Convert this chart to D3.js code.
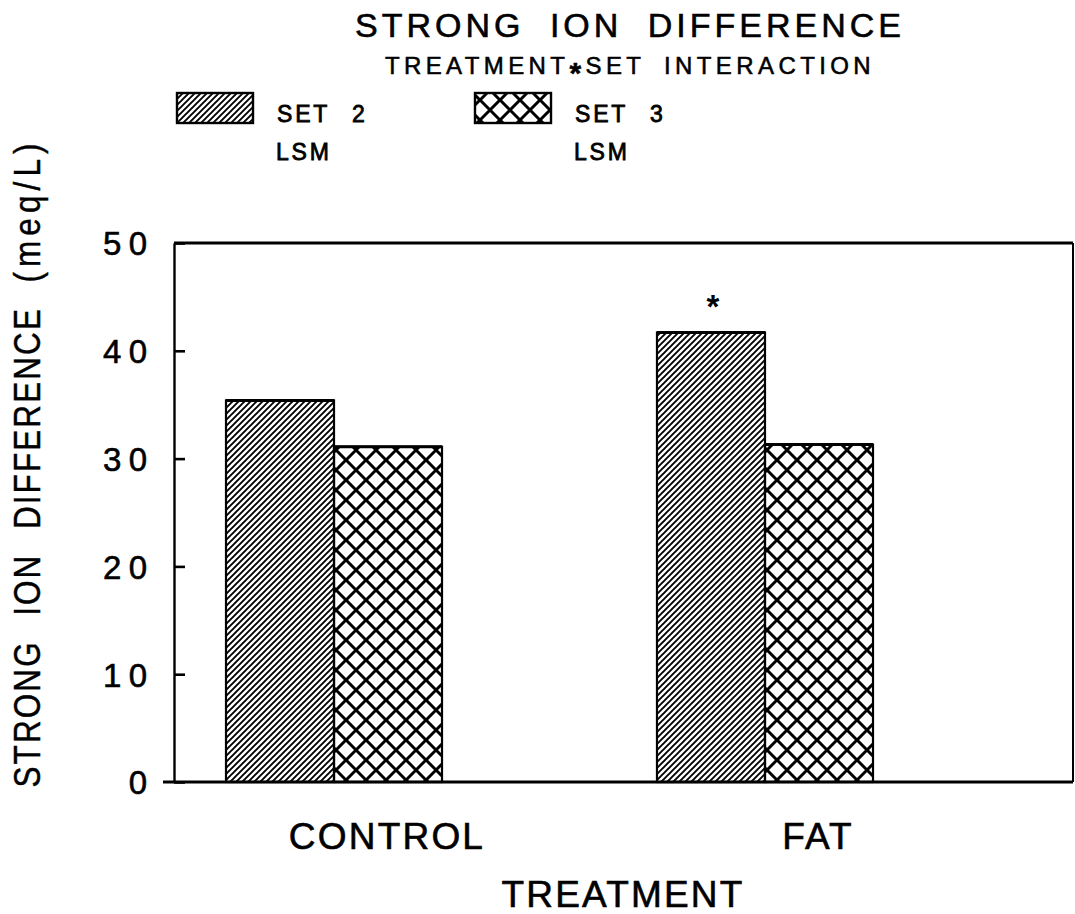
<!DOCTYPE html>
<html>
<head>
<meta charset="utf-8">
<script src="https://cdn.jsdelivr.net/npm/d3@7"></script>
<style>
  html, body { margin: 0; padding: 0; background: #fff; }
  svg { display: block; }
  text { font-family: "Liberation Sans", Arial, Helvetica, sans-serif; fill: #000; }
</style>
</head>
<body>
<svg id="chart" width="1075" height="914"></svg>
<script>
// ---- data ----
const groups = ["CONTROL", "FAT"];
const sets = ["SET 2", "SET 3"];
const set2Values = [35.4, 41.7];
const set3Values = [31.1, 31.3];
const yTickValues = [0, 10, 20, 30, 40, 50];
const significantSet2 = [false, true];   // asterisk over SET 2 bar
const legendLabels = ["SET 2", "SET 3"];
const legendSubLabels = ["LSM", "LSM"];

const titleText = "STRONG ION DIFFERENCE";
const subtitleParts = ["TREATMENT", "*", "SET INTERACTION"];
const yLabelParts = ["STRONG ION DIFFERENCE ", "(meq/L)"];
const xLabelText = "TREATMENT";

// ---- layout ----
const plot = { left: 174, right: 1073, top: 243, bottom: 782 };
const barsSpan = [226, 873];

const svg = d3.select("#chart");

// hatch patterns
const defs = svg.append("defs");
const diag = defs.append("pattern")
  .attr("id", "hatchDiag").attr("patternUnits", "userSpaceOnUse")
  .attr("width", 6).attr("height", 6);
diag.append("path")
  .attr("d", "M-1.5,1.5 L1.5,-1.5 M0,6 L6,0 M4.5,7.5 L7.5,4.5")
  .attr("stroke", "#000").attr("stroke-width", 1.9).attr("fill", "none");

const cross = defs.append("pattern")
  .attr("id", "hatchCross").attr("patternUnits", "userSpaceOnUse")
  .attr("width", 20).attr("height", 20);
cross.append("path")
  .attr("d", "M0,0 L20,20 M20,0 L0,20")
  .attr("stroke", "#000").attr("stroke-width", 3).attr("fill", "none");

const fills = { "SET 2": "url(#hatchDiag)", "SET 3": "url(#hatchCross)" };

// ---- scales ----
const y = d3.scaleLinear().domain([0, 50]).range([plot.bottom, plot.top]);
const x0 = d3.scaleBand().domain(groups).range(barsSpan).paddingInner(0.4988).paddingOuter(0);
const x1 = d3.scaleBand().domain(sets).range([0, x0.bandwidth()]).padding(0);

const rows = groups.map((g, i) => ({
  group: g,
  values: [
    { set: "SET 2", value: set2Values[i], star: significantSet2[i] },
    { set: "SET 3", value: set3Values[i], star: false }
  ]
}));

// ---- bars ----
const gBars = svg.append("g");
const groupSel = gBars.selectAll("g.grp").data(rows).join("g")
  .attr("class", "grp")
  .attr("transform", d => `translate(${x0(d.group)},0)`);

groupSel.selectAll("rect").data(d => d.values).join("rect")
  .attr("x", d => x1(d.set))
  .attr("y", d => y(d.value))
  .attr("width", x1.bandwidth())
  .attr("height", d => y(0) - y(d.value))
  .attr("fill", d => fills[d.set])
  .attr("stroke", "#000")
  .attr("stroke-width", 2.2);

// bar tops drawn heavier
groupSel.selectAll("line.top").data(d => d.values).join("line")
  .attr("class", "top")
  .attr("x1", d => x1(d.set))
  .attr("x2", d => x1(d.set) + x1.bandwidth())
  .attr("y1", d => y(d.value))
  .attr("y2", d => y(d.value))
  .attr("stroke", "#000").attr("stroke-width", 3);

// significance asterisk
groupSel.selectAll("text.star").data(d => d.values.filter(v => v.star)).join("text")
  .attr("class", "star")
  .attr("x", d => x1(d.set) + x1.bandwidth() / 2 + 2)
  .attr("y", d => y(d.value) - 14)
  .attr("text-anchor", "middle")
  .attr("font-size", 33)
  .attr("font-weight", "bold")
  .text("*");

// ---- frame ----
const frame = svg.append("g").attr("stroke", "#000").attr("fill", "none");
frame.append("line").attr("x1", plot.left).attr("x2", plot.right)
  .attr("y1", plot.top).attr("y2", plot.top).attr("stroke-width", 3);
frame.append("line").attr("x1", plot.right).attr("x2", plot.right)
  .attr("y1", plot.top).attr("y2", plot.bottom).attr("stroke-width", 2);
frame.append("line").attr("x1", 163).attr("x2", plot.right)
  .attr("y1", plot.bottom).attr("y2", plot.bottom).attr("stroke-width", 3);

// ---- y axis ----
const yAxis = d3.axisLeft(y).tickValues(yTickValues)
  .tickSizeInner(-11).tickSizeOuter(0).tickPadding(27)
  .tickFormat(d3.format("d"));
const gy = svg.append("g").attr("transform", `translate(${plot.left},0)`).call(yAxis);
gy.select(".domain").attr("stroke", "#000").attr("stroke-width", 2.4);
gy.selectAll(".tick line").attr("stroke", "#000").attr("stroke-width", 2.6);
gy.selectAll(".tick text")
  .attr("font-family", "Liberation Sans, Arial, sans-serif")
  .attr("font-size", 33)
  .attr("fill", "#000")
  .attr("stroke", "#000").attr("stroke-width", 0.6)
  .attr("dy", "0.36em")
  .each(function (d) {
    if (String(d).length > 1) d3.select(this).attr("textLength", 44).attr("lengthAdjust", "spacing");
  });

// ---- text helper ----
function label(parent, txt, x, yPos, size, opts) {
  const o = opts || {};
  const t = parent.append("text")
    .attr("x", x).attr("y", yPos)
    .attr("font-size", size)
    .attr("text-anchor", o.anchor || "middle")
    .attr("stroke", "#000").attr("stroke-width", o.weight == null ? 0.6 : o.weight)
    .style("letter-spacing", (o.ls || 0) + "px")
    .style("word-spacing", (o.ws || 0) + "px")
    .text(txt);
  return t;
}

// ---- category labels ----
groups.forEach(g => {
  label(svg, g, x0(g) + x0.bandwidth() / 2 + 53, 849, 37, { ls: 2.2 });
});

// axis titles
label(svg, xLabelText, 623, 907, 37, { ls: 2.2 });
// vertical title: tall, slightly condensed lettering
const yl = svg.append("g").attr("transform", "translate(40,463) rotate(-90) scale(0.85,1)")
  .append("text")
  .attr("x", 0).attr("y", 0)
  .attr("font-size", 37)
  .attr("text-anchor", "middle")
  .attr("stroke", "#000").attr("stroke-width", 0.45)
  .style("letter-spacing", "2.5px")
  .style("word-spacing", "16px");
yl.append("tspan").text(yLabelParts[0]);
yl.append("tspan").style("letter-spacing", "6px").text(yLabelParts[1]);

// ---- titles ----
label(svg, titleText, 630, 37, 34, { ls: 4, ws: 12 });
const sub = svg.append("text")
  .attr("x", 630).attr("y", 74)
  .attr("font-size", 24)
  .attr("text-anchor", "middle")
  .attr("stroke", "#000").attr("stroke-width", 0.55)
  .style("letter-spacing", "4.4px")
  .style("word-spacing", "8px");
sub.append("tspan").text(subtitleParts[0]);
sub.append("tspan").attr("font-weight", "bold").attr("font-size", 30).attr("dy", 9).text(subtitleParts[1]);
sub.append("tspan").attr("dy", -9).text(subtitleParts[2]);

// ---- legend ----
const legendX = [177, 475];
const legend = svg.append("g");
sets.forEach((s, i) => {
  legend.append("rect")
    .attr("x", legendX[i]).attr("y", 93)
    .attr("width", 76).attr("height", 30)
    .attr("fill", fills[s])
    .attr("stroke", "#000").attr("stroke-width", 2.4);
  label(legend, legendLabels[i], legendX[i] + 100, 122, 23, { anchor: "start", ls: 2.8, ws: 13, weight: 0.8 });
  label(legend, legendSubLabels[i], legendX[i] + 99, 160, 23, { anchor: "start", ls: 2.8, weight: 0.8 });
});
</script>
</body>
</html>
